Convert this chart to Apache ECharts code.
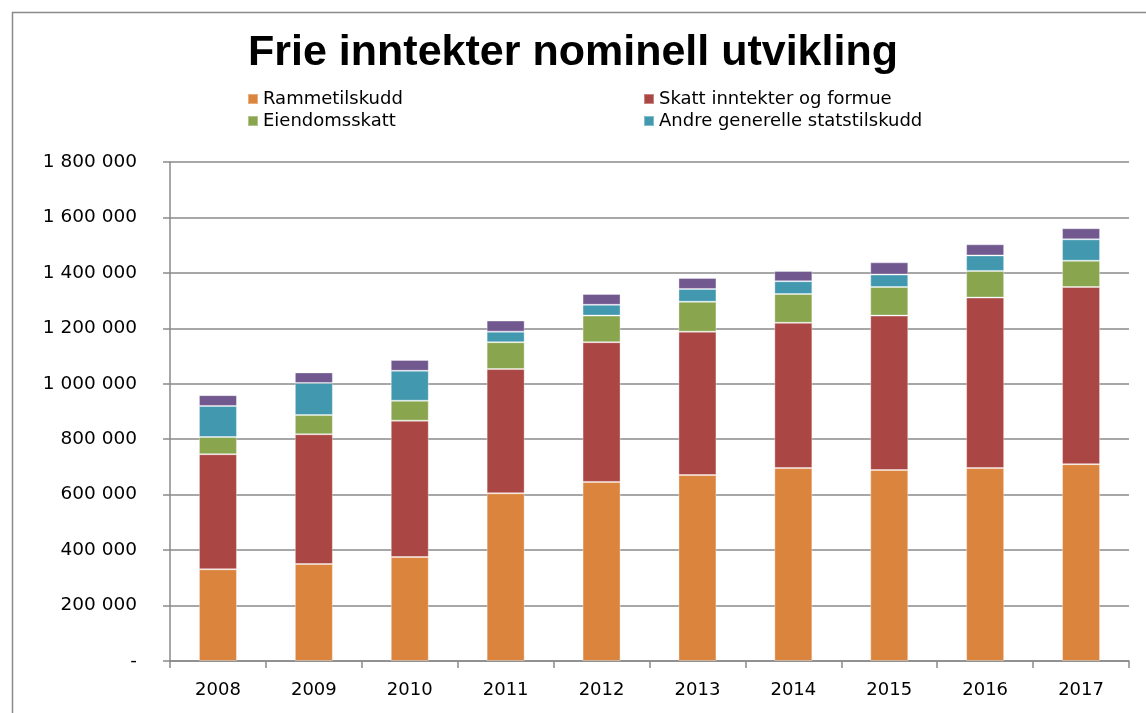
<!DOCTYPE html>
<html>
<head>
<meta charset="utf-8">
<script src="https://cdn.jsdelivr.net/npm/echarts@6/dist/echarts.min.js"></script>
<style>
  html, body { margin: 0; padding: 0; background: #fff; }
  #chart { width: 1146px; height: 713px; }
</style>
</head>
<body>
<div id="chart"></div>
<script>
var years = ['2008', '2009', '2010', '2011', '2012', '2013', '2014', '2015', '2016', '2017'];
var rammetilskudd = [331000, 350000, 375000, 605000, 646000, 671000, 696000, 689000, 696000, 710000];
var skatt = [415000, 468000, 492000, 448000, 504000, 517000, 524000, 557000, 615000, 639000];
var eiendomsskatt = [62000, 69000, 72000, 97000, 96000, 108000, 104000, 103000, 96000, 95000];
var andre = [112000, 116000, 108000, 38000, 39000, 46000, 46000, 45000, 56000, 77000];
var ovrige = [39000, 38000, 39000, 40000, 39000, 40000, 37000, 44000, 40000, 40000];

var chartDom = document.getElementById('chart');
var myChart = echarts.init(chartDom);

var axisFont = 'DejaVu Sans';

function fmt(v) {
    if (v === 0) return '-';
    return String(v).replace(/\B(?=(\d{3})+(?!\d))/g, ' ');
}

function bar(name, data, color) {
    return {
        name: name,
        type: 'bar',
        stack: 'total',
        barWidth: 38,
        data: data,
        itemStyle: {
            color: color,
            borderColor: 'rgba(255,255,255,0.35)',
            borderWidth: 1
        }
    };
}

var option = {
    animation: false,
    backgroundColor: '#fff',
    title: {
        text: 'Frie inntekter nominell utvikling',
        left: 'center',
        top: 27,
        textStyle: {
            fontFamily: 'Liberation Sans',
            fontWeight: 'bold',
            fontSize: 43,
            color: '#000'
        }
    },
    legend: [
        {
            orient: 'vertical',
            left: 242,
            top: 85,
            itemWidth: 10,
            itemHeight: 10,
            itemGap: 4,
            icon: 'rect',
            data: ['Rammetilskudd', 'Eiendomsskatt'],
            textStyle: { fontFamily: axisFont, fontSize: 18, color: '#000' }
        },
        {
            orient: 'vertical',
            left: 638,
            top: 85,
            itemWidth: 10,
            itemHeight: 10,
            itemGap: 4,
            icon: 'rect',
            data: ['Skatt inntekter og formue', 'Andre generelle statstilskudd'],
            textStyle: { fontFamily: axisFont, fontSize: 18, color: '#000' }
        }
    ],
    grid: {
        left: 170,
        right: 17,
        top: 162,
        bottom: 52,
        containLabel: false
    },
    xAxis: {
        type: 'category',
        data: years,
        axisLine: { lineStyle: { color: '#8a8a8a', width: 1.5 } },
        axisTick: { show: true, length: 7, lineStyle: { color: '#8a8a8a', width: 1.5 } },
        axisLabel: { color: '#000', fontFamily: axisFont, fontSize: 18, margin: 20 }
    },
    yAxis: {
        type: 'value',
        min: 0,
        max: 1800000,
        interval: 200000,
        axisLine: { show: true, lineStyle: { color: '#8a8a8a', width: 1.5 } },
        axisTick: { show: true, length: 7, lineStyle: { color: '#8a8a8a', width: 1.5 } },
        axisLabel: {
            color: '#000',
            fontFamily: axisFont,
            fontSize: 18.5,
            margin: 33,
            formatter: fmt
        },
        splitLine: { lineStyle: { color: '#8a8a8a', width: 1.5 } }
    },
    graphic: [
        {
            type: 'rect',
            left: 10,
            top: 10,
            shape: { width: 1200, height: 800 },
            style: { fill: 'none', stroke: '#8a8a8a', lineWidth: 1.5 },
            silent: true
        }
    ],
    series: [
        bar('Rammetilskudd', rammetilskudd, '#DB843D'),
        bar('Skatt inntekter og formue', skatt, '#AA4643'),
        bar('Eiendomsskatt', eiendomsskatt, '#89A54E'),
        bar('Andre generelle statstilskudd', andre, '#4198AF'),
        bar('Øvrige', ovrige, '#71588F')
    ]
};

myChart.setOption(option);
</script>
</body>
</html>
